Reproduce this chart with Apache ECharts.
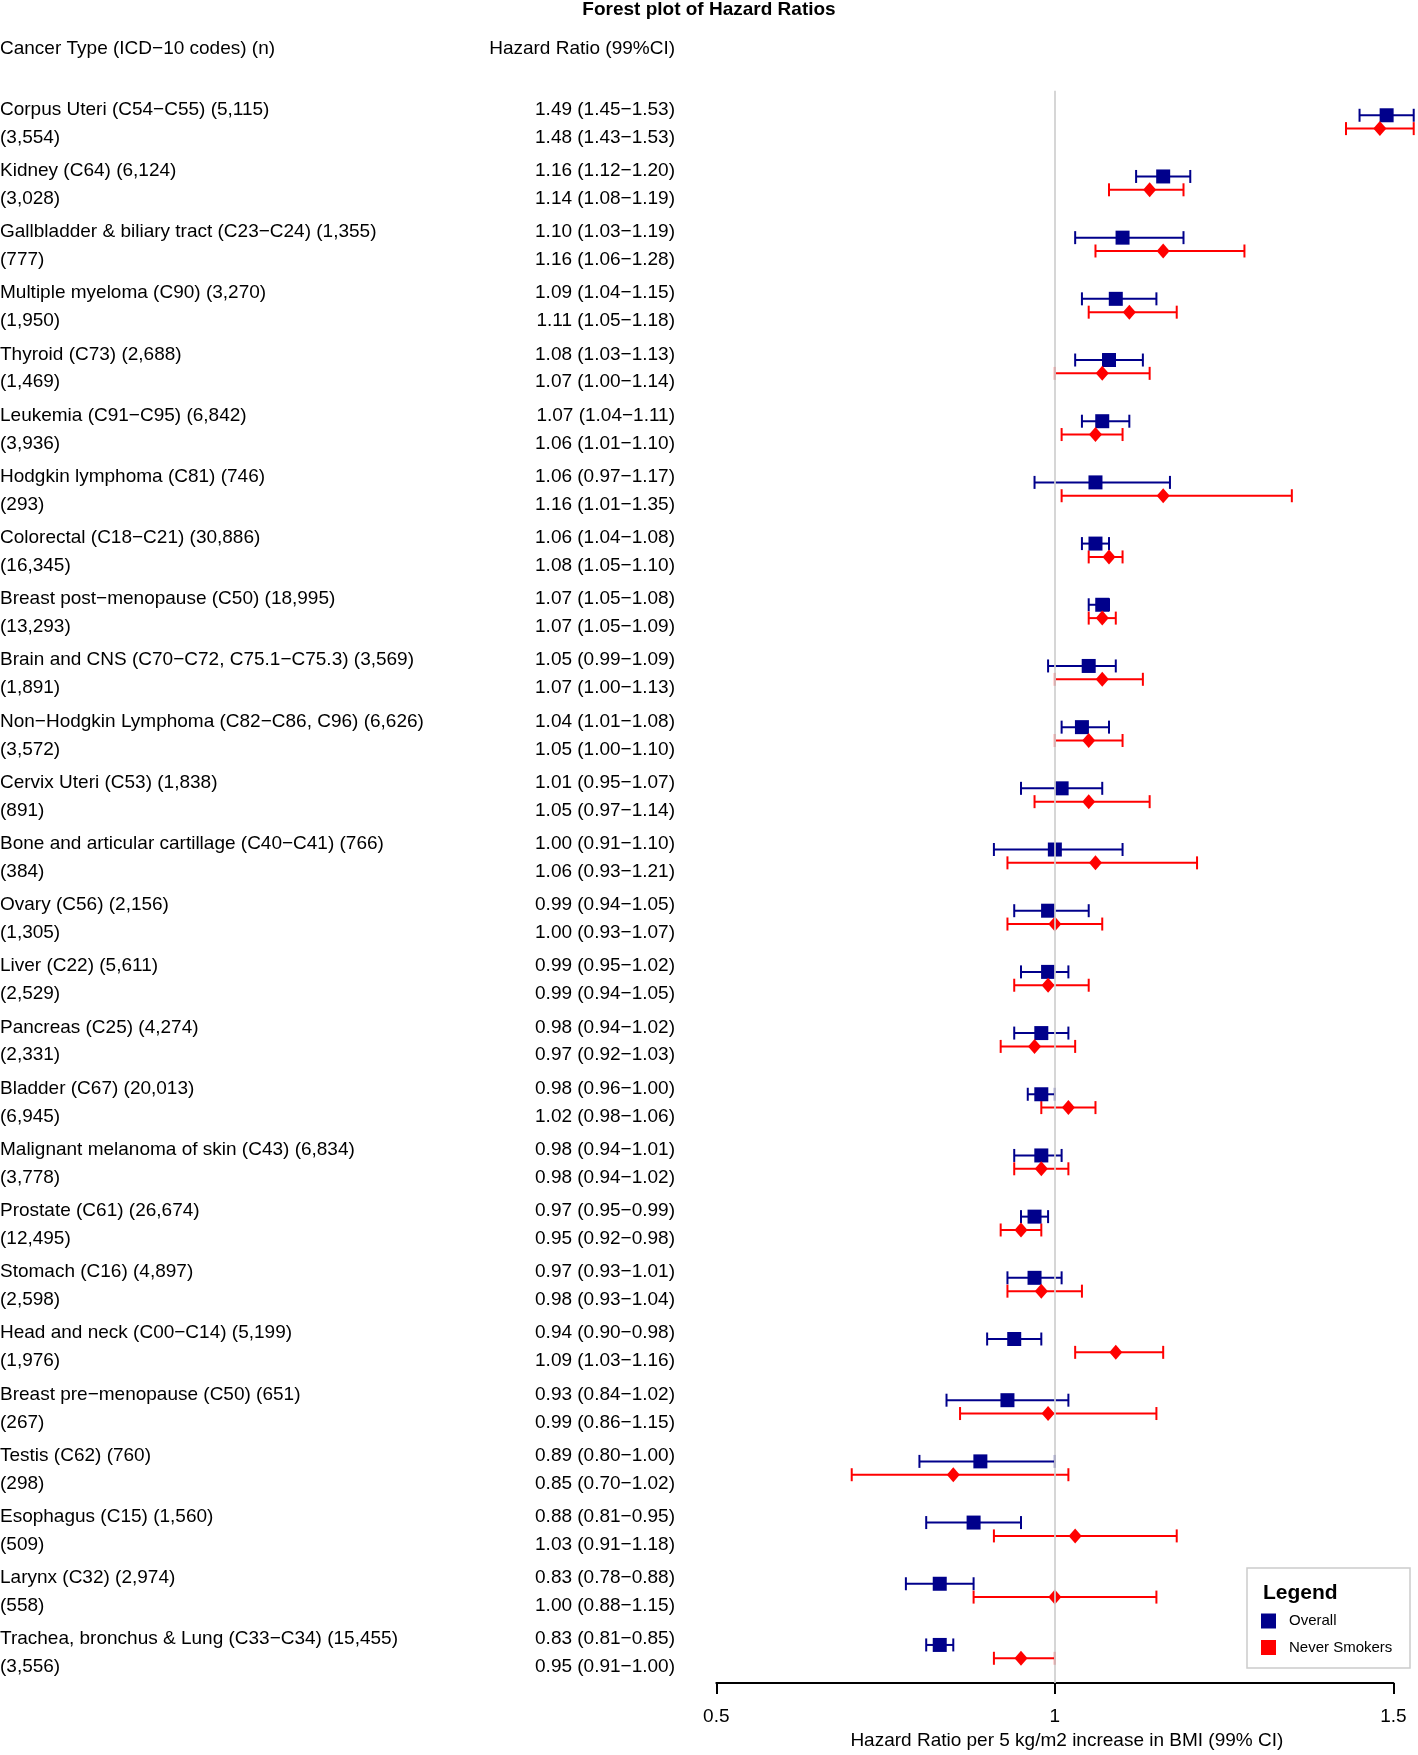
<!DOCTYPE html>
<html><head><meta charset="utf-8">
<script src="https://cdn.jsdelivr.net/npm/echarts@6/dist/echarts.min.js"></script>
<style>html,body{margin:0;padding:0;background:#fff}#c{width:1418px;height:1755px}</style>
</head><body><div id="c"></div>
<script>
const cancerTypes = [
  "Corpus Uteri (C54−C55)", "Kidney (C64)", "Gallbladder & biliary tract (C23−C24)",
  "Multiple myeloma (C90)", "Thyroid (C73)", "Leukemia (C91−C95)", "Hodgkin lymphoma (C81)",
  "Colorectal (C18−C21)", "Breast post−menopause (C50)", "Brain and CNS (C70−C72, C75.1−C75.3)",
  "Non−Hodgkin Lymphoma (C82−C86, C96)", "Cervix Uteri (C53)", "Bone and articular cartillage (C40−C41)",
  "Ovary (C56)", "Liver (C22)", "Pancreas (C25)", "Bladder (C67)", "Malignant melanoma of skin (C43)",
  "Prostate (C61)", "Stomach (C16)", "Head and neck (C00−C14)", "Breast pre−menopause (C50)",
  "Testis (C62)", "Esophagus (C15)", "Larynx (C32)", "Trachea, bronchus & Lung (C33−C34)"
];
const nOverall = ["5,115","6,124","1,355","3,270","2,688","6,842","746","30,886","18,995","3,569",
  "6,626","1,838","766","2,156","5,611","4,274","20,013","6,834","26,674","4,897","5,199","651",
  "760","1,560","2,974","15,455"];
const nNever = ["3,554","3,028","777","1,950","1,469","3,936","293","16,345","13,293","1,891",
  "3,572","891","384","1,305","2,529","2,331","6,945","3,778","12,495","2,598","1,976","267",
  "298","509","558","3,556"];
const hrOverall = [1.49,1.16,1.10,1.09,1.08,1.07,1.06,1.06,1.07,1.05,1.04,1.01,1.00,0.99,0.99,0.98,0.98,0.98,0.97,0.97,0.94,0.93,0.89,0.88,0.83,0.83];
const loOverall = [1.45,1.12,1.03,1.04,1.03,1.04,0.97,1.04,1.05,0.99,1.01,0.95,0.91,0.94,0.95,0.94,0.96,0.94,0.95,0.93,0.90,0.84,0.80,0.81,0.78,0.81];
const hiOverall = [1.53,1.20,1.19,1.15,1.13,1.11,1.17,1.08,1.08,1.09,1.08,1.07,1.10,1.05,1.02,1.02,1.00,1.01,0.99,1.01,0.98,1.02,1.00,0.95,0.88,0.85];
const hrNever = [1.48,1.14,1.16,1.11,1.07,1.06,1.16,1.08,1.07,1.07,1.05,1.05,1.06,1.00,0.99,0.97,1.02,0.98,0.95,0.98,1.09,0.99,0.85,1.03,1.00,0.95];
const loNever = [1.43,1.08,1.06,1.05,1.00,1.01,1.01,1.05,1.05,1.00,1.00,0.97,0.93,0.93,0.94,0.92,0.98,0.94,0.92,0.93,1.03,0.86,0.70,0.91,0.88,0.91];
const hiNever = [1.53,1.19,1.28,1.18,1.14,1.10,1.35,1.10,1.09,1.13,1.10,1.14,1.21,1.07,1.05,1.03,1.06,1.02,0.98,1.04,1.16,1.15,1.02,1.18,1.15,1.00];
const xTicks = [0.5, 1, 1.5];

const FONT = "'Liberation Sans', Arial, Helvetica, sans-serif";
const BLUE = '#00008B', RED = '#FF0000';
const NEVER_OFF = 0.218, LINE1_OFF = -0.094, LINE2_OFF = 0.362;
const fmt = (h, l, u) => `${h.toFixed(2)} (${l.toFixed(2)}−${u.toFixed(2)})`;

const rows = cancerTypes.map((c, i) => [1, i]);
const errO = cancerTypes.map((c, i) => [loOverall[i], hiOverall[i], i]);
const errN = cancerTypes.map((c, i) => [loNever[i], hiNever[i], i + NEVER_OFF]);
const ptO = cancerTypes.map((c, i) => [hrOverall[i], i]);
const ptN = cancerTypes.map((c, i) => [hrNever[i], i + NEVER_OFF]);

function errRender(color) {
  return function (params, api) {
    const lo = api.value(0), hi = api.value(1), y = api.value(2);
    const a = api.coord([lo, y]), b = api.coord([hi, y]);
    const h = 6.5, st = { stroke: color, lineWidth: 2 };
    return { type: 'group', children: [
      { type: 'line', shape: { x1: a[0], y1: a[1], x2: b[0], y2: b[1] }, style: st },
      { type: 'line', shape: { x1: a[0], y1: a[1] - h, x2: a[0], y2: a[1] + h }, style: st },
      { type: 'line', shape: { x1: b[0], y1: b[1] - h, x2: b[0], y2: b[1] + h }, style: st }
    ]};
  };
}

function textRender(params, api) {
  const i = params.dataIndex;
  const y1 = api.coord([1, i + LINE1_OFF])[1];
  const y2 = api.coord([1, i + LINE2_OFF])[1];
  const ts = (t, x, y, al) => ({ type: 'text', x: x, y: y,
    style: { text: t, fill: '#000', font: `19px ${FONT}`, textAlign: al, textVerticalAlign: 'middle' } });
  return { type: 'group', children: [
    ts(`${cancerTypes[i]} (${nOverall[i]})`, 0, y1, 'left'),
    ts(`(${nNever[i]})`, 0, y2, 'left'),
    ts(fmt(hrOverall[i], loOverall[i], hiOverall[i]), 675, y1, 'right'),
    ts(fmt(hrNever[i], loNever[i], hiNever[i]), 675, y2, 'right')
  ]};
}

const chart = echarts.init(document.getElementById('c'), null, { renderer: 'canvas' });
chart.setOption({
  animation: false,
  backgroundColor: '#fff',
  textStyle: { fontFamily: FONT },
  title: { text: 'Forest plot of Hazard Ratios', left: 'center', top: -5,
    textStyle: { fontSize: 19, fontWeight: 'bold', color: '#000', fontFamily: FONT } },
  grid: { left: 716.3, width: 677.1, top: 90.8, height: 1595.9, containLabel: false },
  xAxis: {
    type: 'value', min: xTicks[0], max: xTicks[xTicks.length - 1], interval: 0.5,
    axisLine: { show: true, onZero: false, lineStyle: { color: '#000', width: 2 } },
    axisTick: { show: true, length: 11, lineStyle: { color: '#000', width: 2 } },
    axisLabel: { fontSize: 19, color: '#000', margin: 24, fontFamily: FONT },
    splitLine: { show: false },
    name: 'Hazard Ratio per 5 kg/m2 increase in BMI (99% CI)',
    nameLocation: 'middle', nameGap: 48,
    nameTextStyle: { fontSize: 19, color: '#000', padding: [0, 0, 0, 24], fontFamily: FONT }
  },
  yAxis: { type: 'value', inverse: true, min: -0.4, max: 25.622, show: false },
  legend: {
    orient: 'vertical', left: 1261, top: 1613.5, padding: 0,
    itemWidth: 15, itemHeight: 15, itemGap: 11.5, selectedMode: false,
    textStyle: { fontSize: 15, color: '#000', padding: [0, 0, 0, 8], fontFamily: FONT },
    data: [{ name: 'Overall', icon: 'rect' }, { name: 'Never Smokers', icon: 'rect' }]
  },
  graphic: [
    { type: 'rect', z: 0, shape: { x: 1247, y: 1568, width: 163, height: 100 },
      style: { fill: '#fff', stroke: '#cccccc', lineWidth: 1.5 } },
    { type: 'text', z: 5, x: 1263, y: 1593,
      style: { text: 'Legend', font: `bold 21px ${FONT}`, fill: '#000', textVerticalAlign: 'middle' } },
    { type: 'text', x: 0, y: 48.5,
      style: { text: 'Cancer Type (ICD−10 codes) (n)', font: `19px ${FONT}`, fill: '#000', textVerticalAlign: 'middle' } },
    { type: 'text', x: 675, y: 48.5,
      style: { text: 'Hazard Ratio (99%CI)', font: `19px ${FONT}`, fill: '#000', textAlign: 'right', textVerticalAlign: 'middle' } }
  ],
  series: [
    { type: 'custom', name: 'table', z: 1, renderItem: textRender, data: rows,
      encode: { x: 0, y: 1 }, silent: true,
      markLine: { silent: true, symbol: 'none', label: { show: false },
        lineStyle: { color: '#cfcfcf', width: 1.7, type: 'solid' }, data: [{ xAxis: 1 }] } },
    { type: 'custom', name: 'Overall', z: 3, renderItem: errRender(BLUE), data: errO,
      itemStyle: { color: BLUE }, encode: { x: [0, 1], y: 2 } },
    { type: 'custom', name: 'Never Smokers', z: 3, renderItem: errRender(RED), data: errN,
      itemStyle: { color: RED }, encode: { x: [0, 1], y: 2 } },
    { type: 'scatter', name: 'Overall', z: 4, symbol: 'rect', symbolSize: [14, 14],
      itemStyle: { color: BLUE, opacity: 1 }, data: ptO },
    { type: 'scatter', name: 'Never Smokers', z: 4, symbol: 'diamond', symbolSize: [13, 15],
      itemStyle: { color: RED, opacity: 1 }, data: ptN }
  ]
});
</script></body></html>
